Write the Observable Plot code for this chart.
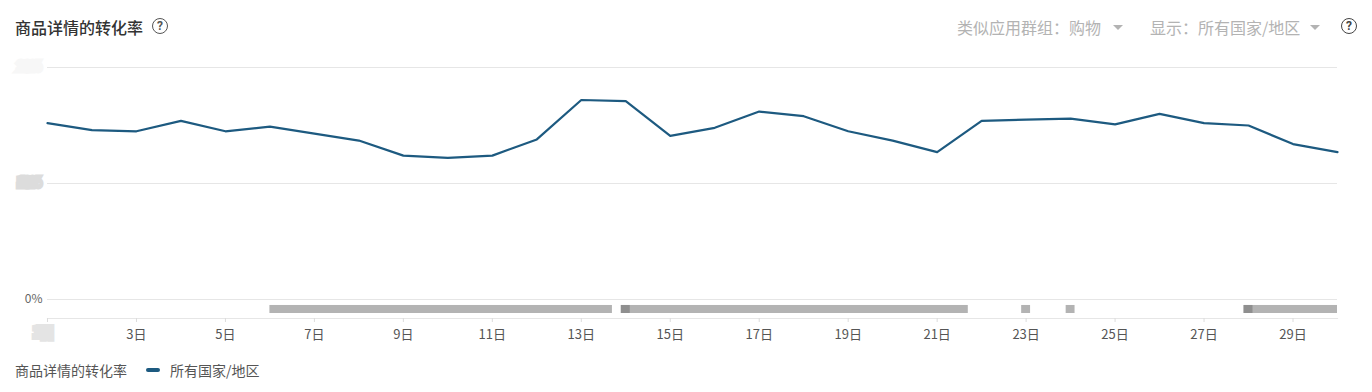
<!DOCTYPE html>
<html>
<head>
<meta charset="utf-8">
<script src="https://cdn.jsdelivr.net/npm/d3@7"></script>
<script src="https://cdn.jsdelivr.net/npm/@observablehq/plot@0.6"></script>
<style>
  html, body { margin: 0; padding: 0; background: #fff; }
  body { width: 1372px; height: 392px; position: relative; overflow: hidden;
         font-family: "Noto Sans CJK SC", "Noto Sans", sans-serif; }
  .abs { position: absolute; white-space: nowrap; line-height: 1; }
  .title { left: 15px; top: 19px; font-size: 16px; font-weight: 500; color: #333; }
  .help { width: 14px; height: 14px; border: 1.7px solid #555; border-radius: 50%;
          font-size: 12px; font-weight: 700; color: #555; text-align: center; line-height: 14px;
          font-family: Roboto, sans-serif; }
  .filter { top: 19px; font-size: 16px; color: #b3b3b3; }
  .caret { width: 0; height: 0; border-left: 5px solid transparent; border-right: 5px solid transparent;
           border-top: 5px solid #b3b3b3; }
  #chart { position: absolute; left: 0; top: 50px; }
  .legend { top: 363px; font-size: 14px; color: #555; }
  .swatch { left: 146px; top: 368px; width: 14px; height: 4px; border-radius: 2px; background: #1d5a80; }
</style>
</head>
<body>
<div class="abs title">商品详情的转化率</div>
<div class="abs help" style="left:152px; top:18px;">?</div>
<div class="abs filter" style="left:957px;">类似应用群组：购物</div>
<div class="abs caret" style="left:1113px; top:25px;"></div>
<div class="abs filter" style="left:1150px;">显示：所有国家/地区</div>
<div class="abs caret" style="left:1310px; top:25px;"></div>
<div class="abs help" style="left:1341px; top:18px; border-color:#444; color:#444;">?</div>
<div id="chart"></div>
<div class="abs legend" style="left:15px;">商品详情的转化率</div>
<div class="abs swatch"></div>
<div class="abs legend" style="left:170px;">所有国家/地区</div>
<script>
// ---- data ----
const days = d3.range(1, 31);
const conversion = [15.2, 14.6, 14.5, 15.4, 14.5, 14.9, 14.3, 13.7, 12.4, 12.2,
                    12.4, 13.8, 17.2, 17.1, 14.1, 14.8, 16.2, 15.8, 14.5, 13.7,
                    12.7, 15.4, 15.5, 15.6, 15.1, 16.0, 15.2, 15.0, 13.4, 12.7];
const yTicks = [0, 10, 20];
const yTickLabels = ["0%", "10%", "20%"];
const xTicks = [1, 3, 5, 7, 9, 11, 13, 15, 17, 19, 21, 23, 25, 27, 29];
const xTickLabels = xTicks.map(d => d + "日");
// annotation band (periods) below the 0% line
const annoStart = [6.0, 13.9, 22.9, 23.9, 27.9];
const annoEnd   = [13.7, 21.7, 23.1, 24.1, 30.0];
const markStart = [13.9, 27.9];
const markEnd   = [14.1, 28.1];
const bandBottom = -1.64;   // lower bound of the y domain (annotation band)

const series = days.map((d, i) => ({day: d, value: conversion[i]}));
const annos = annoStart.map((s, i) => ({start: s, end: annoEnd[i]}));
const marks = markStart.map((s, i) => ({start: s, end: markEnd[i]}));
const hiddenY = yTicks.slice(1).map((t, i) => ({t, label: yTickLabels[i + 1], c: i === 0 ? "#dcdcdc" : "#f7f7f7"}));

const chart = Plot.plot({
  width: 1372,
  height: 300,
  marginTop: 17,
  marginBottom: 32,
  marginLeft: 47,
  marginRight: 35,
  style: {fontFamily: "'Noto Sans CJK SC', 'Noto Sans', sans-serif", fontSize: "13px", background: "transparent"},
  x: {domain: [1, 30]},
  y: {domain: [bandBottom, 20]},
  marks: [
    Plot.gridY(yTicks, {stroke: "#e6e6e6", strokeOpacity: 1, strokeWidth: 1.2}),
    Plot.frame({anchor: "bottom", stroke: "#e6e6e6", strokeWidth: 1.2}),
    Plot.rect(annos, {x1: "start", x2: "end", y1: 0, y2: bandBottom, insetTop: 6, insetBottom: 5, fill: "#b3b3b3"}),
    Plot.rect(marks, {x1: "start", x2: "end", y1: 0, y2: bandBottom, insetTop: 6, insetBottom: 5, fill: "#8f8f8f"}),
    Plot.axisY([0], {tickSize: 0, tickPadding: 5, tickFormat: d => yTickLabels[yTicks.indexOf(d)], fill: "#666", fontSize: 12, label: null}),
    Plot.text(hiddenY, {y: "t", frameAnchor: "left", textAnchor: "end", dx: -7, dy: -1, text: "label",
                        fill: "c", stroke: "c", strokeWidth: 7, strokeLinejoin: "miter", fontSize: 11}),
    Plot.axisX(xTicks, {tickSize: 4, tickPadding: 7, stroke: "#dcdcdc",
                        tickFormat: d => d === 1 ? "" : xTickLabels[xTicks.indexOf(d)], fill: "#555", label: null}),
    Plot.text([1], {x: d => d, frameAnchor: "bottom", dy: 18, dx: -4,
                    text: d => "\u00a0" + xTickLabels[xTicks.indexOf(d)] + "\u00a0",
                    fill: "#e4e4e4", stroke: "#e4e4e4", strokeWidth: 6, strokeLinejoin: "miter", fontSize: 13}),
    Plot.line(series, {x: "day", y: "value", stroke: "#1d5a80", strokeWidth: 2.2, curve: "linear"})
  ]
});
document.getElementById("chart").appendChild(chart);
</script>
</body>
</html>
